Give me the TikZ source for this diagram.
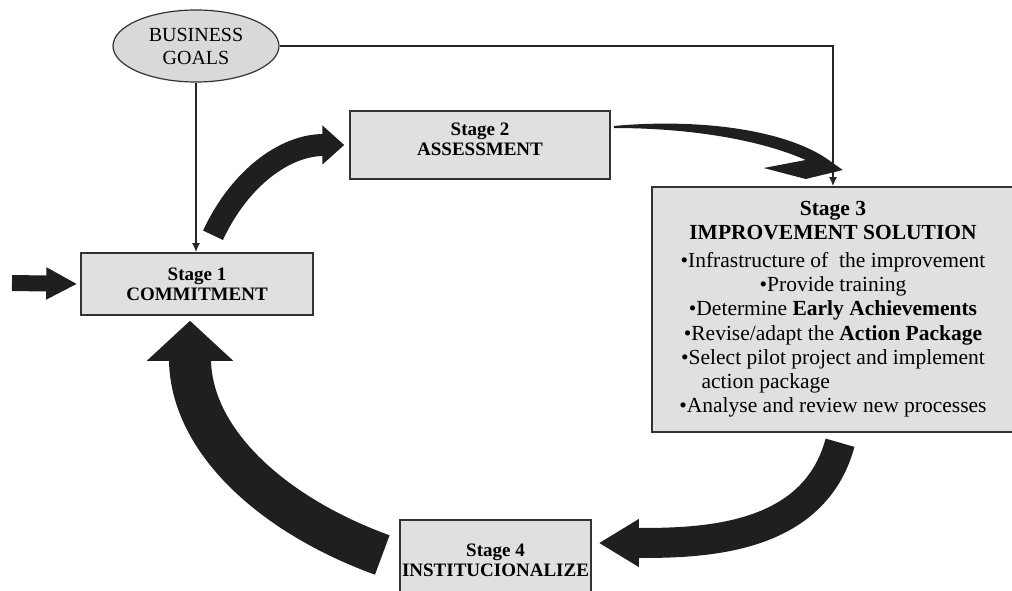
\documentclass[tikz,border=0pt]{standalone}
\usepackage{fontspec}
\setmainfont{Liberation Serif}
\usetikzlibrary{shapes.geometric,arrows.meta,calc}

\begin{document}
\begin{tikzpicture}[
x=1pt,y=1pt,
stage/.style={
  rectangle,
  draw=black!80,
  line width=1.5pt,
  fill=black!12,
  align=center,
  inner sep=0pt,
  font=\fontsize{19}{20}\selectfont\bfseries
  },
goal/.style={
  ellipse,
  draw=black!80,
  line width=1.2pt,
  fill=black!15,
  align=center,
  inner sep=0pt,
  minimum width=166pt,
  minimum height=72pt,
  font=\fontsize{20}{23}\selectfont
  },
link/.style={
  draw=black!85,
  line width=1.8pt,
  -{Latex[length=9pt,width=8pt]}
  },
block/.style n args={3}{
  draw=black!88,
  line width=#1,
  -{Triangle[length=#2,width=#3]}
  }
]
\useasboundingbox (0,0) rectangle (1012,590);
\clip (0,0) rectangle (1012,590);

\node[goal] (goals) at (196,544) {BUSINESS\\GOALS};
\node[stage, minimum width=232pt, minimum height=62pt] (s1) at (197,306) {Stage 1\\COMMITMENT};
\node[stage, minimum width=260pt, minimum height=68pt, text depth=12pt] (s2) at (480,445) {Stage 2\\ASSESSMENT};
\node[stage, minimum width=362pt, minimum height=245pt,
  font=\fontsize{21.5}{24.3}\selectfont] (s3) at (833,280.5)
  {\textbf{Stage 3}\\
   \textbf{IMPROVEMENT SOLUTION}\\[3pt]
   •Infrastructure of\ \ the improvement\\
   •Provide training\\
   •Determine \textbf{Early Achievements}\\
   •Revise/adapt the \textbf{Action Package}\\
   •Select pilot project and implement\\
   \makebox[307pt][l]{\hspace{22pt}action package}\\
   •Analyse and review new processes};
\node[stage, minimum width=191pt, minimum height=80pt] (s4) at (495.5,30) {Stage 4\\INSTITUCIONALIZE};

% thin links from the goals
\draw[link] (goals.east) -| (s3.north);
\draw[link] (goals.south) -- (goals.south |- s1.north);

% input
\coordinate (in) at (12,307);
\draw[block={16pt}{31pt}{30pt}, shorten >=3pt] (in) -- (s1.west);

% the cycle
\draw[block={22pt}{22pt}{38pt}, shorten >=5pt]
  ($(s1.north)+(16,17)$) to[out=65,in=180] (s2.west);
\fill[black!88, shift={(s2.east)}]
  (3,19) .. controls (90,27) and (180,15) .. (222,-18)
  -- (232,-25) -- (195,-34) -- (153,-23) -- (195,-15)
  .. controls (150,5) and (80,17) .. (3,17) -- cycle;
\draw[block={30pt}{40pt}{45pt}]
  ($(s3.south)+(7,-10)$) to[out=-105,in=0] ($(s4.east)+(7,17)$);
\draw[block={42pt}{40pt}{84pt}]
  ($(s4.west)+(-17,5)$) to[out=160,in=-90] ($(s1.south)+(-7,-5)$);
\end{tikzpicture}
\end{document}
